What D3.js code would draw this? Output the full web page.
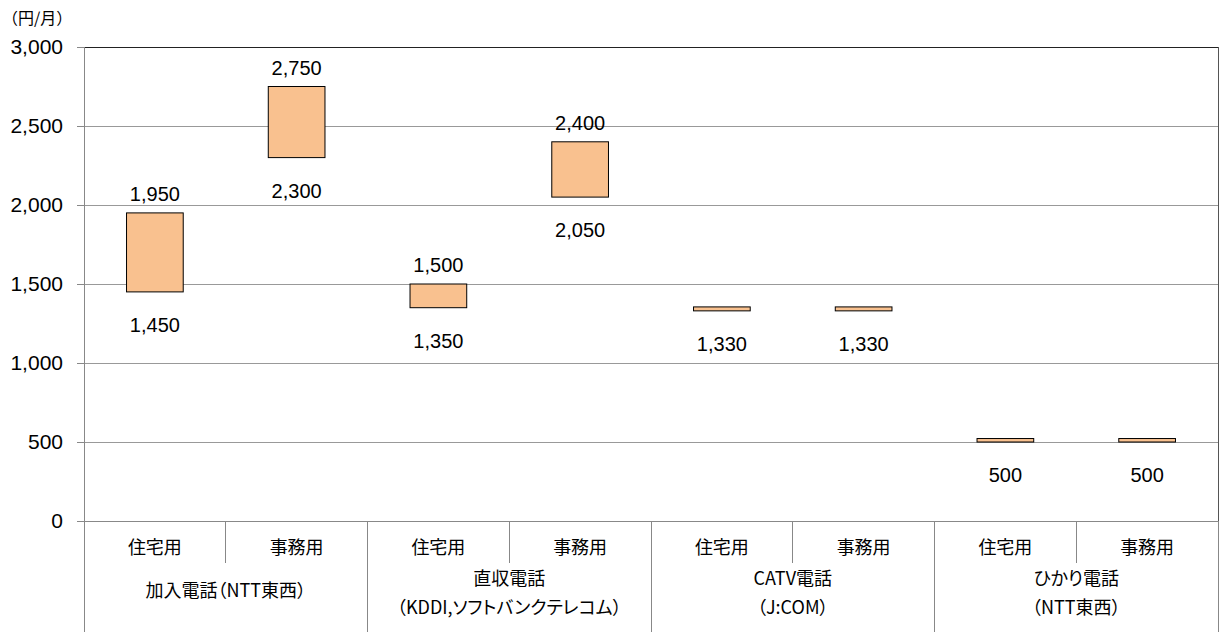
<!DOCTYPE html>
<html><head><meta charset="utf-8">
<script src="https://cdn.jsdelivr.net/npm/d3@7"></script>
<style>body{margin:0;background:#fff}svg{display:block}text{font-feature-settings:"palt"}text.unit{font-feature-settings:normal}</style>
</head><body><svg id="c" width="1219" height="632"></svg>
<script>
const subCats = ["住宅用","事務用","住宅用","事務用","住宅用","事務用","住宅用","事務用"];
const groups = [["加入電話（NTT東西）"],["直収電話","（KDDI,ソフトバンクテレコム）"],["CATV電話","（J:COM）"],["ひかり電話","（NTT東西）"]];
const lowVals  = [1450, 2300, 1350, 2050, 1330, 1330, 500, 500];
const highVals = [1950, 2750, 1500, 2400, 1355, 1355, 522, 522];
const showHigh = [true, true, true, true, false, false, false, false];
const yTicks = [0, 500, 1000, 1500, 2000, 2500, 3000];
const unitLabel = "（円/月）";

const svg = d3.select("#c");
const L = 84, R = 1218, T = 47, B = 521;
const font = "'Liberation Sans', Arial, 'Noto Sans CJK JP', sans-serif";
const jfont = "'Noto Sans CJK JP', 'Liberation Sans', sans-serif";
const x = d3.scaleBand().domain(d3.range(subCats.length)).range([L, R]).paddingInner(0).paddingOuter(0);
const y = d3.scaleLinear().domain([0, 3000]).range([B, T]);
const fmt = d3.format(",");

// gridlines
svg.append("g").selectAll("line").data(yTicks.filter(d => d > 0)).join("line")
  .attr("x1", L).attr("x2", R).attr("y1", d => y(d)).attr("y2", d => y(d))
  .attr("stroke", d => d === 3000 ? "#222" : "#999").attr("stroke-width", 1)
  .attr("shape-rendering", "crispEdges");

// y axis
const ya = svg.append("g").attr("transform", `translate(${L},0)`)
  .call(d3.axisLeft(y).tickValues(yTicks).tickFormat(fmt).tickSize(7).tickPadding(14));
ya.selectAll("path,line").attr("stroke", "#888").attr("shape-rendering", "crispEdges");
ya.select(".domain").attr("d", `M0,${T}V${B}`);
ya.selectAll("text").attr("font-family", font).attr("font-size", 21).attr("fill", "#000");

// right border
svg.append("line").attr("x1", R).attr("x2", R).attr("y1", T).attr("y2", B)
  .attr("stroke", "#555").attr("shape-rendering", "crispEdges");
// bottom zero line
svg.append("line").attr("x1", L - 7).attr("x2", R).attr("y1", B).attr("y2", B)
  .attr("stroke", "#888").attr("shape-rendering", "crispEdges");

// bars
const bw = x.bandwidth() * 0.4;
svg.append("g").selectAll("rect").data(subCats.map((s, i) => i)).join("rect")
  .attr("x", i => x(i) + (x.bandwidth() - bw) / 2)
  .attr("width", bw)
  .attr("y", i => y(highVals[i]))
  .attr("height", i => y(lowVals[i]) - y(highVals[i]))
  .attr("fill", "#F9C18F").attr("stroke", "#000").attr("stroke-width", 1);

// value labels
const lbl = svg.append("g").attr("font-family", font).attr("font-size", 20).attr("text-anchor", "middle");
subCats.forEach((s, i) => {
  const cx = x(i) + x.bandwidth() / 2;
  if (showHigh[i]) lbl.append("text").attr("x", cx).attr("y", y(highVals[i]) - 12).text(fmt(highVals[i]));
  lbl.append("text").attr("x", cx).attr("y", y(lowVals[i]) + 40).text(fmt(lowVals[i]));
});

// category table
const tbl = svg.append("g").attr("font-family", jfont).attr("font-size", 18).attr("text-anchor", "middle");
subCats.forEach((s, i) => {
  const cx = x(i) + x.bandwidth() / 2;
  tbl.append("text").attr("x", cx).attr("y", B + 33).text(s);
  if (i % 2 === 1) tbl.append("line").attr("x1", x(i)).attr("x2", x(i)).attr("y1", B).attr("y2", B + 42)
      .attr("stroke", "#888").attr("shape-rendering", "crispEdges");
});
for (let g = 0; g <= groups.length; g++) {
  const gx = g < groups.length ? x(g * 2) : R;
  tbl.append("line").attr("x1", gx).attr("x2", gx).attr("y1", B).attr("y2", 632)
    .attr("stroke", "#888").attr("shape-rendering", "crispEdges");
}
groups.forEach((lines, g) => {
  const cx = x(g * 2) + x.bandwidth();
  if (lines.length === 1) {
    tbl.append("text").attr("x", cx).attr("y", B + 76).text(lines[0]);
  } else {
    tbl.append("text").attr("x", cx).attr("y", B + 64).text(lines[0]);
    tbl.append("text").attr("x", cx).attr("y", B + 93).text(lines[1]);
  }
});

// unit label
svg.append("text").attr("class", "unit").attr("x", 2).attr("y", 24).attr("font-family", jfont)
  .attr("font-size", 16).text(unitLabel);
</script></body></html>
